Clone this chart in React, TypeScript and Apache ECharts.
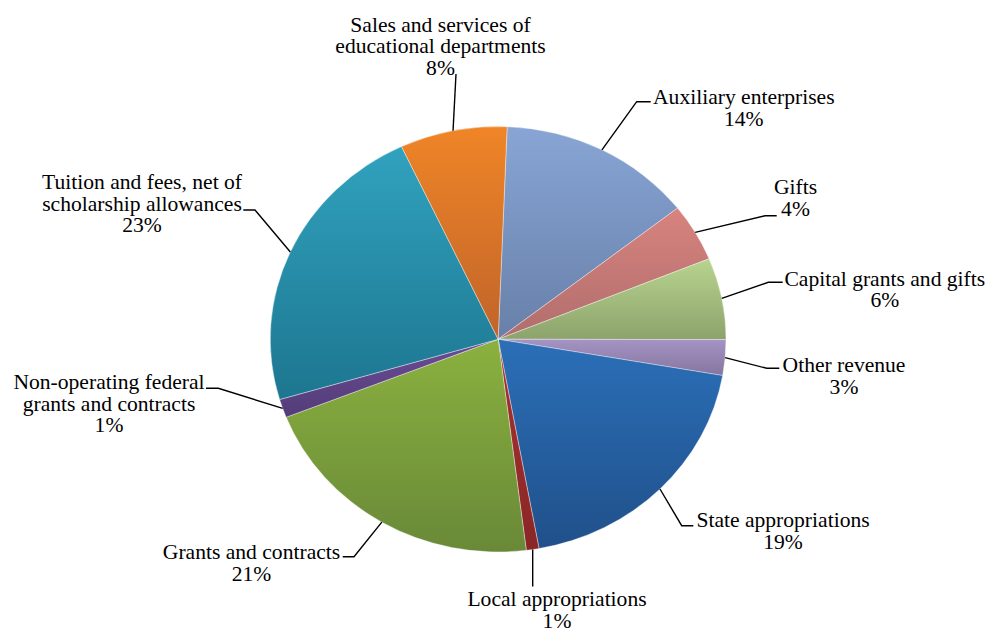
import React, { useEffect, useRef } from "react";
import * as echarts from "echarts";

// ---- data ----
const categories: string[] = [
  "Auxiliary enterprises",
  "Gifts",
  "Capital grants and gifts",
  "Other revenue",
  "State appropriations",
  "Local appropriations",
  "Grants and contracts",
  "Non-operating federal\ngrants and contracts",
  "Tuition and fees, net of\nscholarship allowances",
  "Sales and services of\neducational departments",
];
const values: number[] = [13.8, 4.4, 6.2, 2.7, 19.4, 0.9, 21.0, 1.4, 22.6, 7.6];

// ---- styles ----
const topColors: string[] = [
  "#88A5D5", "#D8837F", "#B8D48F", "#A594C4", "#2B6FB8",
  "#A83232", "#8BB13F", "#6B4C96", "#31A2BE", "#F08527",
];
const bottomColors: string[] = [
  "#6880A9", "#B06E6C", "#8CA36C", "#85759F", "#20508A",
  "#8A2626", "#698938", "#533C78", "#1D7690", "#C0642A",
];

// ---- layout (label anchor: centre x, first baseline y; leader: elbow points after the pie edge) ----
const labelAnchor: number[][] = [
  [743.8, 103.3],
  [795.5, 193.3],
  [884.8, 285.0],
  [844.0, 371.7],
  [783.0, 526.7],
  [557.0, 605.6],
  [251.5, 558.3],
  [109.0, 388.3],
  [142.0, 188.3],
  [440.5, 31.0],
];
const leaderPath: number[][][] = [
  [[636.7, 101.7], [650.7, 101.7]],
  [[765.0, 215.7], [776.7, 215.7]],
  [[768.3, 282.3], [782.7, 282.3]],
  [[766.7, 368.3], [779.3, 368.3]],
  [[681.7, 525.7], [693.3, 525.7]],
  [[532.7, 586.5]],
  [[354.0, 556.7], [342.7, 556.7]],
  [[218.3, 388.3], [206.0, 388.3]],
  [[255.0, 210.0], [243.3, 210.0]],
  [[456.0, 74.0]],
];

const CX = 498.15;
const CY = 339.25;
const R = 212.75;
const SX = 1.071; // horizontal stretch of the pie
const TSX = 1.08; // horizontal stretch of the text
const FS = 20;
const LH = 21.7;
const START = -Math.PI / 2 + (2.26 * Math.PI) / 180;
const FAMILY = "Liberation Serif, serif";

export default function App() {
  const ref = useRef<HTMLDivElement>(null);
  useEffect(() => {
    if (!ref.current) return;
    const chart = echarts.init(ref.current, null, { renderer: "svg" });
    const total = values.reduce((a, b) => a + b, 0);
    const cum = values.map((_, i) => values.slice(0, i).reduce((a, b) => a + b, 0));

    const option: any = {
      animation: false,
      backgroundColor: "#ffffff",
      series: [
        {
          type: "custom",
          coordinateSystem: "none",
          silent: true,
          data: values.map((v) => [v]),
          renderItem: (params: any, api: any) => {
            const i = params.dataIndex;
            const v = api.value(0);
            const a0 = START + (cum[i] / total) * Math.PI * 2;
            const a1 = a0 + (v / total) * Math.PI * 2;
            const mid = (a0 + a1) / 2;
            const sx = CX + SX * R * Math.cos(mid);
            const sy = CY + R * Math.sin(mid);
            const pct = Math.round((v / total) * 100) + "%";
            const [lx, lb] = labelAnchor[i];
            const pts = [[sx, sy], ...leaderPath[i]];
            return {
              type: "group",
              children: [
                {
                  type: "sector",
                  shape: { cx: CX, cy: CY, r: R, r0: 0, startAngle: a0, endAngle: a1, clockwise: true },
                  originX: CX,
                  originY: CY,
                  scaleX: SX,
                  style: {
                    fill: new echarts.graphic.LinearGradient(0, 0, 0, 1, [
                      { offset: 0, color: topColors[i] },
                      { offset: 1, color: bottomColors[i] },
                    ]),
                    stroke: "rgba(255,255,255,0.6)",
                    lineWidth: 0.6,
                  },
                },
                {
                  type: "polyline",
                  shape: { points: pts },
                  style: { stroke: "#000000", lineWidth: 1.4, fill: "none" },
                },
                {
                  type: "text",
                  x: lx,
                  y: lb - 0.305 * FS - LH / 2,
                  scaleX: TSX,
                  style: {
                    legacy: false,
                    text: categories[i] + "\n" + pct,
                    fill: "#000000",
                    fontSize: FS,
                    fontFamily: FAMILY,
                    align: "center",
                    verticalAlign: "top",
                    lineHeight: LH,
                  },
                },
              ],
            };
          },
        },
      ],
    };
    chart.setOption(option);
    return () => chart.dispose();
  }, []);
  return (
    <div
      ref={ref}
      style={{ position: "absolute", left: 0, top: 0, width: 989, height: 632, background: "#ffffff" }}
    />
  );
}
